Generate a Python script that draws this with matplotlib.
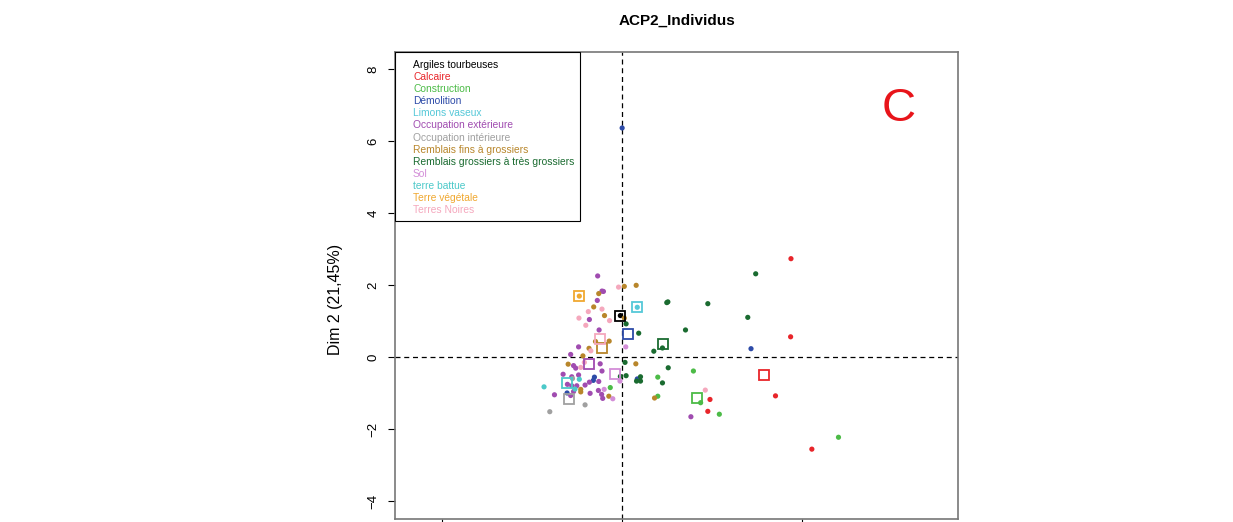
import matplotlib
matplotlib.use("Agg")
import matplotlib.pyplot as plt
from matplotlib.patches import Rectangle

plt.rcParams['font.family'] = ['Liberation Sans', 'DejaVu Sans']

# categories (legend order) and their colours
categories = ["Argiles tourbeuses", "Calcaire", "Construction", "Démolition",
              "Limons vaseux", "Occupation extérieure", "Occupation intérieure",
              "Remblais fins à grossiers", "Remblais grossiers à très grossiers",
              "Sol", "terre battue", "Terre végétale", "Terres Noires"]
colors = ["#000000", "#E8252A", "#4CBB47", "#2D4BA8", "#55C8D8", "#A04CB0",
          "#A0A0A0", "#B8862B", "#1A6B30", "#D38ED8", "#4CC9C9", "#F0A830",
          "#F5A8BD"]

# individuals (Dim 1, Dim 2) per category
ind_x = {
    "Argiles tourbeuses": [-0.05],
    "Calcaire": [4.69, 4.68, 2.44, 4.26, 2.38, 5.27],
    "Construction": [0.99, 1.98, 0.99, 2.18, 2.70, 6.01, -0.33],
    "Démolition": [0.00, 3.58, -0.77, -0.80, 0.42, -1.53],
    "Limons vaseux": [0.42],
    "Occupation extérieure": [-0.68, -0.56, -0.52, -0.69, -0.91, -0.64, -1.21, -1.43,
                              -1.35, -1.29, -0.61, -1.64, -0.56, -1.40, -1.21, -0.91,
                              -0.65, -1.52, -1.03, -1.40, -1.26, -1.88, -1.35, -1.43,
                              -0.66, -0.57, -0.54, -0.89, 1.91],
    "Occupation intérieure": [-1.38, -1.03, -2.01],
    "Remblais fins à grossiers": [0.06, 0.39, -0.65, -0.79, -0.49, 0.06, -0.36, -0.74,
                                  -0.92, -1.09, -1.50, 0.38, -1.15, -1.15, -0.37, 0.90],
    "Remblais grossiers à très grossiers": [3.71, 1.24, 1.27, 2.38, 3.49, 1.76, 1.12,
                                            0.88, 1.28, 1.12, 0.11, 0.46, 0.08, -0.05,
                                            0.11, 0.51, 0.40, 0.51],
    "Sol": [0.10, -0.06, -0.26, -0.50],
    "terre battue": [-2.17, -1.19, -1.31],
    "Terre végétale": [-1.19],
    "Terres Noires": [-0.10, -0.94, -0.56, -1.20, -0.35, -1.01, -0.87, -1.05, -1.15, 2.31],
}
ind_y = {
    "Argiles tourbeuses": [1.15],
    "Calcaire": [2.73, 0.56, -1.18, -1.08, -1.51, -2.56],
    "Construction": [-0.56, -0.39, -1.09, -1.27, -1.59, -2.23, -0.85],
    "Démolition": [6.36, 0.23, -0.56, -0.65, -0.61, -1.00],
    "Limons vaseux": [1.38],
    "Occupation extérieure": [2.25, 1.83, 1.82, 1.57, 1.04, 0.75, 0.28, 0.07,
                              -0.24, -0.31, -0.19, -0.48, -0.39, -0.55, -0.50, -0.70,
                              -0.68, -0.76, -0.78, -0.80, -0.80, -1.05, -0.96, -1.07,
                              -0.93, -1.04, -1.15, -1.01, -1.66],
    "Occupation intérieure": [-0.60, -1.33, -1.52],
    "Remblais fins à grossiers": [1.96, 1.99, 1.76, 1.39, 1.15, 1.08, 0.44, 0.43,
                                  0.24, 0.03, -0.20, -0.19, -0.90, -0.97, -1.09, -1.14],
    "Remblais grossiers à très grossiers": [2.31, 1.51, 1.53, 1.48, 1.10, 0.75, 0.25,
                                            0.16, -0.30, -0.72, 0.92, 0.66, -0.15, -0.54,
                                            -0.52, -0.55, -0.67, -0.67],
    "Sol": [0.28, -0.67, -1.16, -0.90],
    "terre battue": [-0.83, -0.62, -0.89],
    "Terre végétale": [1.69],
    "Terres Noires": [1.94, 1.26, 1.33, 1.08, 1.01, 0.88, 0.17, -0.15, -0.29, -0.92],
}

# category centres (supplementary qualitative points)
cent_x = [-0.05, 3.95, 2.08, 0.16, 0.42, -0.91, -1.48, -0.56, 1.14, -0.19, -1.53, -1.19, -0.61]
cent_y = [1.15, -0.51, -1.13, 0.64, 1.38, -0.19, -1.16, 0.25, 0.36, -0.48, -0.72, 1.69, 0.49]

yticks = [-4, -2, 0, 2, 4, 6, 8]
xticks = [-5, 0, 5]

fig = plt.figure(figsize=(12.33, 5.22), dpi=100)
ax = fig.add_axes([395/1233, 3/522, 563/1233, 467/522])

ax.axhline(0, color="black", lw=0.9, ls=(0, (4, 3)), zorder=1)
ax.axvline(0, color="black", lw=0.9, ls=(0, (4, 3)), zorder=1)

for cat, col in zip(categories, colors):
    ax.scatter(ind_x[cat], ind_y[cat], s=14, color=col, edgecolors="none", zorder=3)

for cx, cy, col in zip(cent_x, cent_y, colors):
    ax.plot(cx, cy, marker="s", ms=6.5, mfc="none", mec=col, mew=1.3,
            ls="none", zorder=4)

ax.set_xlim(-6.31, 9.33)
ax.set_ylim(-4.5, 8.47)
ax.set_xticks(xticks)
ax.set_yticks(yticks)
ax.tick_params(direction="out", length=5, width=0.8, colors="black", labelsize=9.5)
ax.tick_params(axis="x", labelbottom=False)
ax.tick_params(axis="y", pad=6, labelrotation=90)
for lab in ax.get_yticklabels():
    lab.set_verticalalignment("center")
for sp in ax.spines.values():
    sp.set_color("#777777")
    sp.set_linewidth(1.2)

ax.set_ylabel("Dim 2 (21,45%)", fontsize=11.5)
ax.yaxis.set_label_coords(-0.092, 0.47)
fig.text(677/1233, 1 - 21/522, "ACP2_Individus", ha="center", va="center",
         fontsize=11, fontweight="bold")

# legend box
box_w = (580 - 395) / 563
box_h = (221 - 52) / 467
ax.add_patch(Rectangle((0, 1 - box_h), box_w, box_h, transform=ax.transAxes,
                       fill=True, facecolor="white", edgecolor="black", lw=0.8, zorder=5))
for i, (cat, col) in enumerate(zip(categories, colors)):
    ypix = 65 + 12.1 * i
    ax.text((413 - 395) / 563, (519 - ypix) / 467, cat, color=col, fontsize=7.4,
            ha="left", va="center", transform=ax.transAxes, zorder=6)

ax.text((899 - 395) / 563, (519 - 109) / 467, "C", color="#E8141A", fontsize=34,
        ha="center", va="center", transform=ax.transAxes)

fig.savefig("out.png", dpi=100)
